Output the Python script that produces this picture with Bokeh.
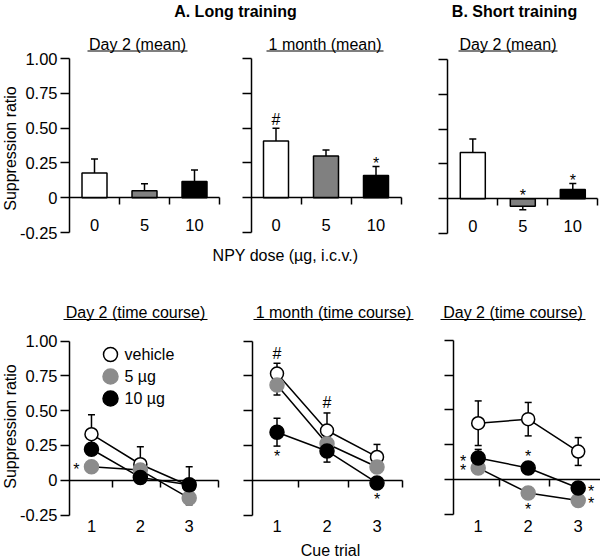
import math
from bokeh.plotting import figure
from bokeh.models import Range1d, LinearAxis, FixedTicker
from bokeh.core.properties import value
from bokeh.embed import file_html
from bokeh.resources import INLINE

FONT = "Liberation Sans"

# ------------------------------------------------------------------ data
DOSE_LABELS = ["0", "5", "10"]
TRIALS = [1, 2, 3]
TRIAL_LABELS = ["1", "2", "3"]
YTICKS = [-0.25, 0.0, 0.25, 0.5, 0.75, 1.0]
YTICK_LABELS = ["-0.25", "0", "0.25", "0.50", "0.75", "1.00"]
LEGEND_LABELS = ["vehicle", "5 µg", "10 µg"]

# A. Long training, Day 2 (mean)
A_DAY2_MEAN = [0.178, 0.050, 0.116]
A_DAY2_SEM = [0.100, 0.050, 0.084]
A_DAY2_MARK = ["", "", ""]
# A. Long training, 1 month (mean)
A_MONTH_MEAN = [0.408, 0.300, 0.160]
A_MONTH_SEM = [0.092, 0.043, 0.064]
A_MONTH_MARK = ["#", "", "*"]
# B. Short training, Day 2 (mean)
B_DAY2_MEAN = [0.333, -0.053, 0.066]
B_DAY2_SEM = [0.097, 0.026, 0.044]
B_DAY2_MARK = ["", "*", "*"]

# A. Long training, Day 2 (time course): vehicle, 5 ug, 10 ug
A_DAY2_TC_VEH = [0.331, 0.115, -0.040]
A_DAY2_TC_VEH_SEM = [0.140, 0.126, 0.137]
A_DAY2_TC_5 = [0.097, 0.073, -0.128]
A_DAY2_TC_5_SEM = [0.040, 0.040, 0.040]
A_DAY2_TC_10 = [0.223, 0.020, -0.033]
A_DAY2_TC_10_SEM = [0.040, 0.040, 0.040]
A_DAY2_TC_MARKS = [(1, 0, "*", "left")]

# A. Long training, 1 month (time course)
A_MONTH_TC_VEH = [0.766, 0.357, 0.167]
A_MONTH_TC_VEH_SEM = [0.074, 0.126, 0.090]
A_MONTH_TC_5 = [0.684, 0.262, 0.095]
A_MONTH_TC_5_SEM = [0.072, 0.040, 0.040]
A_MONTH_TC_10 = [0.345, 0.210, -0.020]
A_MONTH_TC_10_SEM = [0.100, 0.080, 0.030]
A_MONTH_TC_MARKS = [(0, 0, "#", "above"), (2, 0, "*", "below"),
                    (0, 1, "#", "above"), (2, 2, "*", "below")]

# B. Short training, Day 2 (time course)
B_DAY2_TC_VEH = [0.405, 0.434, 0.202]
B_DAY2_TC_VEH_SEM = [0.160, 0.120, 0.100]
B_DAY2_TC_5 = [0.084, -0.095, -0.150]
B_DAY2_TC_5_SEM = [0.040, 0.040, 0.040]
B_DAY2_TC_10 = [0.155, 0.084, -0.060]
B_DAY2_TC_10_SEM = [0.062, 0.040, 0.040]
B_DAY2_TC_MARKS = [(2, 0, "*", "left"), (1, 0, "*", "left"),
                   (2, 1, "*", "above"), (1, 1, "*", "below"),
                   (2, 2, "*", "right"), (1, 2, "*", "right")]

# ------------------------------------------------------------------ styles / layout
BAR_COLORS = ["white", "#808080", "black"]
MARK_FILL = ["white", "#8c8c8c", "black"]
MARK_LINE = ["black", "#8c8c8c", "black"]
MARK_SIZE = [13, 14, 14]
MARK_R_PX = 7.0
LW = 1.5
Y_MIN, Y_MAX = -0.25, 1.0
W, H = 600, 560
PAGE = 0

p = figure(width=W, height=H, x_range=Range1d(PAGE, PAGE + W),
           y_range=Range1d(PAGE + H, PAGE), x_axis_type=None, y_axis_type=None,
           toolbar_location=None, output_backend="svg", min_border=0, title=None)
p.outline_line_color = None
p.background_fill_color = "white"
p.border_fill_color = "white"


def add_ranges(name, x_lo, x_hi, px_l, px_r, px_top, px_bot):
    sx = (x_hi - x_lo) / (px_r - px_l)
    sy = (Y_MAX - Y_MIN) / (px_bot - px_top)
    p.extra_x_ranges = {**p.extra_x_ranges,
                        name: Range1d(x_lo - (px_l - PAGE) * sx, x_hi + (PAGE + W - px_r) * sx)}
    p.extra_y_ranges = {**p.extra_y_ranges,
                        name: Range1d(Y_MIN - (PAGE + H - px_bot) * sy, Y_MAX + (px_top - PAGE) * sy)}
    return sx, sy


def add_axes(name, x_lo, x_hi, cat_pos, cat_labels, sep_pos, show_ylabels, standoff):
    ya = LinearAxis(x_range_name=name, y_range_name=name, fixed_location=x_lo,
                    bounds=(Y_MIN, Y_MAX), ticker=FixedTicker(ticks=YTICKS, minor_ticks=[]))
    ya.major_label_overrides = dict(zip(YTICKS, YTICK_LABELS))
    ya.major_tick_out = 9
    ya.major_tick_in = 0
    ya.minor_tick_line_color = None
    ya.major_label_standoff = 3
    xa = LinearAxis(x_range_name=name, y_range_name=name, fixed_location=0,
                    bounds=(x_lo, x_hi), ticker=FixedTicker(ticks=cat_pos, minor_ticks=sep_pos))
    xa.major_label_overrides = dict(zip(cat_pos, cat_labels))
    xa.major_tick_line_color = None
    xa.major_tick_out = 0
    xa.major_tick_in = 0
    xa.minor_tick_out = 7
    xa.minor_tick_in = 0
    xa.minor_tick_line_color = "black"
    xa.minor_tick_line_width = LW
    xa.major_label_standoff = standoff
    for ax in (ya, xa):
        ax.axis_line_color = "black"
        ax.axis_line_width = LW
        ax.major_tick_line_width = LW
        ax.major_label_text_font = FONT
        ax.major_label_text_font_size = "16.5px"
        ax.major_label_text_color = "black"
    if not show_ylabels:
        ya.major_label_text_color = None
    p.add_layout(ya, "left")
    p.add_layout(xa, "below")


TEXT_CORR = {"*": 3.0, "#": 0.0}


def draw_marks(name, xs, ys, ts):
    if xs:
        p.text(x=xs, y=ys, text=ts, text_align="center", text_baseline="middle",
               text_font=value(FONT), text_font_size="16px", text_color="black",
               x_range_name=name, y_range_name=name)


def bar_panel(name, means, sems, marks, geom, show_ylabels):
    x_lo, x_hi = 0.0, 3.0
    sx, sy = add_ranges(name, x_lo, x_hi, *geom)
    add_axes(name, x_lo, x_hi, [0.5, 1.5, 2.5], DOSE_LABELS, [1.0, 2.0, 3.0], show_ylabels, 14)
    xs = [i + 0.5 for i in range(len(means))]
    ends = [m + s if m >= 0 else m - s for m, s in zip(means, sems)]
    cap = 3.5 * sx
    p.segment(x0=xs, y0=means, x1=xs, y1=ends, line_color="black", line_width=LW,
              x_range_name=name, y_range_name=name)
    p.segment(x0=[x - cap for x in xs], y0=ends, x1=[x + cap for x in xs], y1=ends,
              line_color="black", line_width=LW, x_range_name=name, y_range_name=name)
    p.vbar(x=xs, bottom=0, top=means, width=0.5, fill_color=BAR_COLORS, line_color="black",
           line_width=LW, x_range_name=name, y_range_name=name)
    mx, my, mt = [], [], []
    for x, e, mk in zip(xs, ends, marks):
        if mk:
            gap = 9.0 if mk == "#" else 6.0
            mx.append(x)
            my.append(max(e, 0.0) + (gap - TEXT_CORR[mk]) * sy)
            mt.append(mk)
    draw_marks(name, mx, my, mt)


def tc_panel(name, means3, sems3, marks, geom, x_lo, show_ylabels):
    x_hi = x_lo + 3.0 + (0.05 if x_lo > 0.5 else 0.0)
    sx, sy = add_ranges(name, x_lo, x_hi, *geom)
    add_axes(name, x_lo, x_hi, TRIALS, TRIAL_LABELS, [1.42, 2.42, x_hi], show_ylabels, 33)
    for m in means3:
        p.line(TRIALS, m, line_color="black", line_width=LW, x_range_name=name, y_range_name=name)
    cap = 3.5 * sx
    for m, s in zip(means3, sems3):
        lo = [a - b for a, b in zip(m, s)]
        hi = [a + b for a, b in zip(m, s)]
        p.segment(x0=TRIALS, y0=lo, x1=TRIALS, y1=hi, line_color="black", line_width=LW,
                  x_range_name=name, y_range_name=name)
        p.segment(x0=[t - cap for t in TRIALS] * 2, y0=lo + hi, x1=[t + cap for t in TRIALS] * 2,
                  y1=lo + hi, line_color="black", line_width=LW, x_range_name=name, y_range_name=name)
    for k, m in enumerate(means3):
        p.scatter(TRIALS, m, marker="circle", size=MARK_SIZE[k], fill_color=MARK_FILL[k],
                  line_color=MARK_LINE[k], line_width=LW, x_range_name=name, y_range_name=name)
    mx, my, mt = [], [], []
    for (k, i, mk, side) in marks:
        t, m, s = TRIALS[i], means3[k][i], sems3[k][i]
        x, y = t, m
        if side == "left":
            x = t - 15 * sx
        elif side == "right":
            x = t + 13 * sx
        elif side == "above":
            gap = 10.0 if mk == "#" else 7.5
            y = max(m + s, m + MARK_R_PX * sy) + gap * sy
        elif side == "below":
            y = min(m - s, m - MARK_R_PX * sy) - 7.0 * sy
        mx.append(x)
        my.append(y - TEXT_CORR[mk] * sy)
        mt.append(mk)
    draw_marks(name, mx, my, mt)


# panel geometry: (px_left, px_right, px_top(1.00), px_bottom(-0.25)) in page pixels
bar_panel("p1", A_DAY2_MEAN, A_DAY2_SEM, A_DAY2_MARK, (69, 219, 58, 232.1), True)
bar_panel("p2", A_MONTH_MEAN, A_MONTH_SEM, A_MONTH_MARK, (250.5, 400.5, 58, 232.1), False)
bar_panel("p3", B_DAY2_MEAN, B_DAY2_SEM, B_DAY2_MARK, (447.3, 597.3, 59, 233.1), False)

tc_panel("p4", [A_DAY2_TC_VEH, A_DAY2_TC_5, A_DAY2_TC_10],
         [A_DAY2_TC_VEH_SEM, A_DAY2_TC_5_SEM, A_DAY2_TC_10_SEM], A_DAY2_TC_MARKS,
         (69, 218, 340.7, 514.5), 0.55, True)
tc_panel("p5", [A_MONTH_TC_VEH, A_MONTH_TC_5, A_MONTH_TC_10],
         [A_MONTH_TC_VEH_SEM, A_MONTH_TC_5_SEM, A_MONTH_TC_10_SEM], A_MONTH_TC_MARKS,
         (251.5, 401.5, 340.5, 514.5), 0.5, False)
tc_panel("p6", [B_DAY2_TC_VEH, B_DAY2_TC_5, B_DAY2_TC_10],
         [B_DAY2_TC_VEH_SEM, B_DAY2_TC_5_SEM, B_DAY2_TC_10_SEM], B_DAY2_TC_MARKS,
         (452.7, 602.7, 339.8, 514.0), 0.5, False)

# ------------------------------------------------------------------ texts (page pixel coordinates)
p.text(x=[235, 514], y=[11, 11], text=["A. Long training", "B. Short training"],
       text_align="center", text_baseline="middle", text_font=value(FONT),
       text_font_size="16px", text_font_style="bold", text_color="black")

SUBTITLES = [("Day 2 (mean)", 87, 187, 43.5, 50.5),
             ("1 month (mean)", 266, 383, 43.5, 50.5),
             ("Day 2 (mean)", 458, 557, 43.5, 50.5),
             ("Day 2 (time course)", 63, 207, 312, 319),
             ("1 month (time course)", 253, 413, 312, 319),
             ("Day 2 (time course)", 440, 585, 312, 319)]
p.text(x=[(a + b) / 2 for _, a, b, _, _ in SUBTITLES], y=[c for _, _, _, c, _ in SUBTITLES],
       text=[t for t, *_ in SUBTITLES], text_align="center", text_baseline="middle",
       text_font=value(FONT), text_font_size="16px", text_color="black")
p.segment(x0=[a for _, a, _, _, _ in SUBTITLES], x1=[b for _, _, b, _, _ in SUBTITLES],
          y0=[u for *_, u in SUBTITLES], y1=[u for *_, u in SUBTITLES],
          line_color="black", line_width=1.2)

p.text(x=[10, 10], y=[148, 426], text=["Suppression ratio", "Suppression ratio"],
       angle=math.pi / 2, text_align="center", text_baseline="middle",
       text_font=value(FONT), text_font_size="16px", text_color="black")
p.text(x=[285, 330], y=[255, 550], text=["NPY dose (µg, i.c.v.)", "Cue trial"],
       text_align="center", text_baseline="middle", text_font=value(FONT),
       text_font_size="16px", text_color="black")

# legend (drawn by hand, inside the Day 2 time-course panel)
LEG_X, LEG_Y, LEG_DY, LEG_TX = 110, 354, 22, 124
leg_y = [LEG_Y + i * LEG_DY for i in range(3)]
for k in range(3):
    p.scatter([LEG_X], [leg_y[k]], marker="circle", size=MARK_SIZE[k] + 1,
              fill_color=MARK_FILL[k], line_color=MARK_LINE[k], line_width=LW)
p.text(x=[LEG_TX] * 3, y=leg_y, text=LEGEND_LABELS, text_align="left", text_baseline="middle",
       text_font=value(FONT), text_font_size="16px", text_color="black")

open("out.html", "w").write(file_html(p, INLINE))
